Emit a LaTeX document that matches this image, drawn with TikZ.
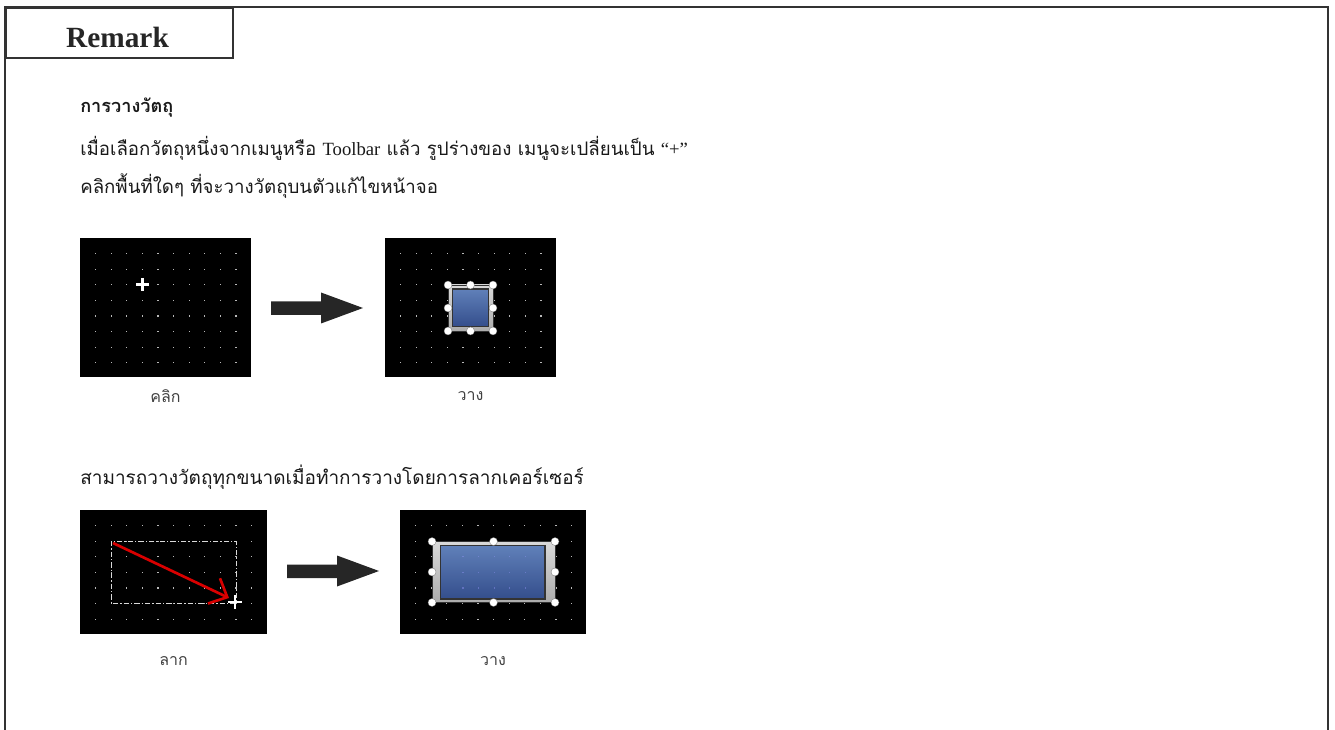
\documentclass[tikz,border=0pt]{standalone}
\usepackage{fontspec}
\setmainfont{Liberation Serif}
\newfontfamily\thai[Script=Thai]{Loma}
\usetikzlibrary{arrows.meta}

% draws the dotted editor grid inside a black panel
\newcommand\editorgrid[4]{%
  \foreach \i in {1,...,#3}{%
    \foreach \j in {1,...,#4}{%
      \fill[gray!55] ({#1+15.6*\i-0.6},{#2+15.6*\j-0.6}) rectangle ++(1.2,1.2);
    }}}
\newcommand\latin[1]{{\rmfamily\fontsize{14}{16}\selectfont #1}}

\begin{document}
\begin{tikzpicture}[x=0.75pt,y=-0.75pt,
  frame/.style={draw=black!80,line width=1.5pt},
  panel/.style={fill=black,draw=none,inner sep=0pt,outer sep=0pt,anchor=north west},
  handle/.style={circle,fill=white,draw=black!60,line width=0.2pt,inner sep=0pt,minimum size=6pt},
  bodytext/.style={anchor=west,inner sep=0pt,font=\thai\fontsize{14}{16}\selectfont,text=black!90},
  caption/.style={inner sep=0pt,font=\thai\fontsize{12}{14}\selectfont,text=black!75},
  bigarrow/.style={fill=black!85,draw=none},
  bezel/.style={top color=gray!30,bottom color=gray!65,draw=gray!40!black,line width=0.5pt},
  screen/.style={top color={rgb,255:red,96;green,128;blue,185},bottom color={rgb,255:red,52;green,78;blue,140},draw=black!80,line width=0.8pt},
  plus/.style={draw=white,line width=2.2pt}]
\useasboundingbox (0,0) rectangle (1335,730);

% outer frame and title tab
\draw[frame] (5,730) -- (5,7) -- (1328,7) -- (1328,730);
\node[frame,anchor=north west,minimum width={227*0.75pt},minimum height={50*0.75pt},inner sep=0pt] (tab) at (5,7) {};
\node[inner sep=0pt,font=\bfseries\fontsize{22}{24}\selectfont,text=black!85] (title) at (117.5,37) {Remark};

% text lines
\node[bodytext,font=\thai\bfseries\fontsize{13.6}{16}\selectfont] (head) at (80,108) {การวางวัตถุ};
\node[bodytext] (line1) at (80,148) {เมื่อเลือกวัตถุหนึ่งจากเมนูหรือ \latin{Toolbar} แล้ว รูปร่างของ เมนูจะเปลี่ยนเป็น \latin{“+”}};
\node[bodytext] (line2) at (80,186) {คลิกพื้นที่ใดๆ ที่จะวางวัตถุบนตัวแก้ไขหน้าจอ};
\node[bodytext,font=\thai\fontsize{14.25}{16}\selectfont] (line3) at (80,477) {สามารถวางวัตถุทุกขนาดเมื่อทำการวางโดยการลากเคอร์เซอร์};

% ---- first row: click, then place ----
\node[panel,minimum width={171*0.75pt},minimum height={139*0.75pt}] (p1) at (80,238) {};
\editorgrid{80}{238}{10}{8}
\draw[plus] (136,284.3) -- (148.6,284.3) (142.3,278) -- (142.3,290.6);
\node[caption] (c1) at (165.5,396) {คลิก};

\fill[bigarrow] (271,301.5) -- (321,301.5) -- (321,292.5) -- (363,308) -- (321,323.5) -- (321,315) -- (271,315) -- cycle;

\node[panel,minimum width={171*0.75pt},minimum height={139*0.75pt}] (p2) at (385,238) {};
\editorgrid{385}{238}{10}{8}
\draw[bezel] (448,285) rectangle (493,331);
\draw[screen] (452.5,289) rectangle (488.5,326.5);
\foreach \hx in {448,470.5,493}{\node[handle] at (\hx,285) {}; \node[handle] at (\hx,331) {};}
\foreach \hx in {448,493}{\node[handle] at (\hx,308) {};}
\node[caption] (c2) at (470.5,396) {วาง};

% ---- second row: drag, then place ----
\node[panel,minimum width={187*0.75pt},minimum height={124*0.75pt}] (p3) at (80,510) {};
\editorgrid{80}{510}{11}{7}
\draw[white!85!black,line width=0.6pt,dash pattern=on 4pt off 1.5pt on 1pt off 1.5pt] (111,541) rectangle (236,603);
\coordinate (dragstart) at (113,543);
\coordinate (dragend) at (229,598);
\draw[red!85!black,line width=2pt,-{Straight Barb[length=11pt,width=21pt,line width=2pt]}] (dragstart) -- (dragend);
\draw[plus] (228,602) -- (242,602) (235,595) -- (235,609);
\node[caption] (c3) at (173.5,661) {ลาก};

\fill[bigarrow] (287,564.5) -- (337,564.5) -- (337,555.5) -- (379,571) -- (337,586.5) -- (337,578) -- (287,578) -- cycle;

\node[panel,minimum width={186*0.75pt},minimum height={124*0.75pt}] (p4) at (400,510) {};
\editorgrid{400}{510}{11}{7}
\draw[bezel] (432,541.5) rectangle (555,602.5);
\draw[screen] (440.5,545.5) rectangle (545,599);
\foreach \gx in {463,478.6,494.2,509.8,525.4}{\foreach \gy in {556.8,572.4,588}{\fill[white!60!blue,opacity=0.4] ({\gx-0.6},{\gy-0.6}) rectangle ++(1.2,1.2);}}
\foreach \hx in {432,493.5,555}{\node[handle] at (\hx,541.5) {}; \node[handle] at (\hx,602.5) {};}
\foreach \hx in {432,555}{\node[handle] at (\hx,572) {};}
\node[caption] (c4) at (493,661) {วาง};
\end{tikzpicture}
\end{document}
